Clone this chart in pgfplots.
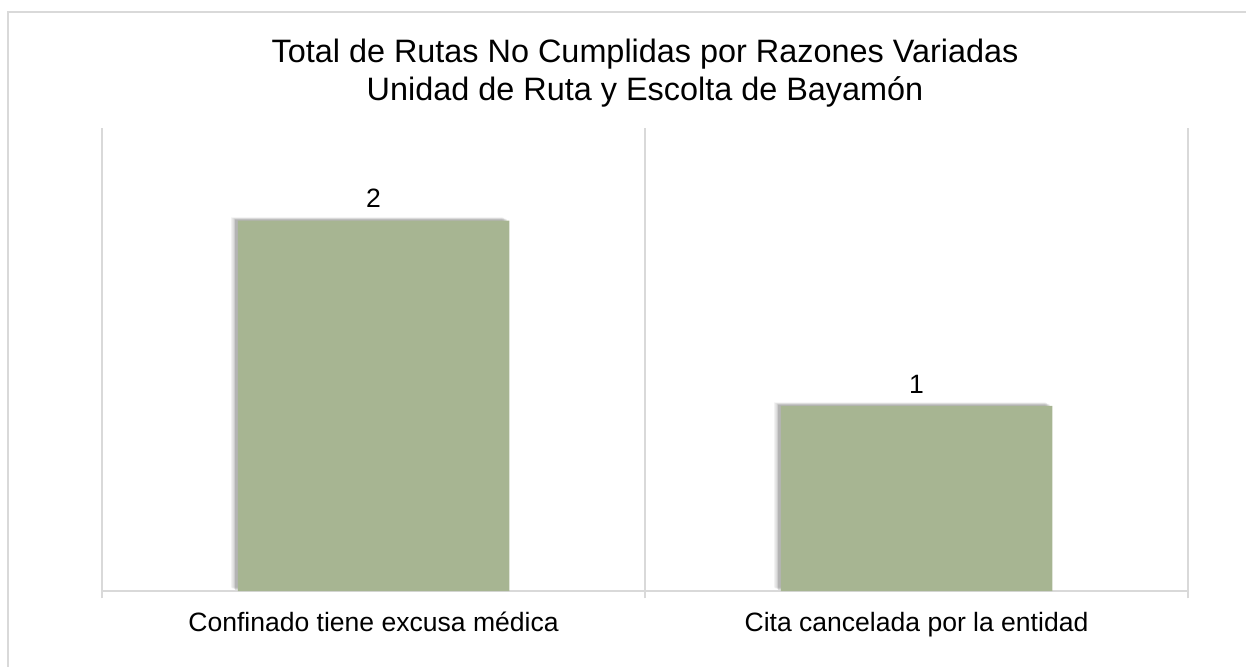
\documentclass[border=0pt]{standalone}
\usepackage{pgfplots}
\pgfplotsset{compat=1.18}
\usepackage{fontspec}
\setmainfont{Liberation Sans}
\definecolor{barcol}{RGB}{167,181,146}
\definecolor{gridcol}{RGB}{217,217,217}
\tikzset{
  softshadow/.style={
    preaction={fill=black,opacity=0.05,transform canvas={xshift=-5pt,yshift=2.5pt}},
    preaction={fill=black,opacity=0.07,transform canvas={xshift=-4pt,yshift=2pt}},
    preaction={fill=black,opacity=0.09,transform canvas={xshift=-3pt,yshift=1.4pt}},
    preaction={fill=black,opacity=0.12,transform canvas={xshift=-2pt,yshift=0.9pt}},
  }
}

\begin{document}
\begin{tikzpicture}
% 1 px of the reference = 0.75pt, y measured downward from the top
\path[use as bounding box] (0,0) rectangle ({1246*0.75pt},{-667*0.75pt});
\draw[gridcol,line width=1.5pt] ({8*0.75pt},{-667*0.75pt}) -- ({8*0.75pt},{-12.5*0.75pt}) -- ({1246*0.75pt},{-12.5*0.75pt});

\node[anchor=base,font=\fontsize{24.3}{28}\selectfont] at ({645*0.75pt},{-63*0.75pt}) {Total de Rutas No Cumplidas por Razones Variadas};
\node[anchor=base,font=\fontsize{24.3}{28}\selectfont] at ({645*0.75pt},{-100*0.75pt}) {Unidad de Ruta y Escolta de Bayamón};

\begin{axis}[
at={({102*0.75pt},{-591*0.75pt})},
anchor=south west,
width=814.5pt,
height=347.25pt,
scale only axis,
/pgf/number format/assume math mode=true,
xmin=-0.5, xmax=1.5,
ymin=0, ymax=2.5,
xtick={0,1},
xticklabels={Confinado tiene excusa médica,Cita cancelada por la entidad},
minor xtick={-0.5,0.5,1.5},
minor x grid style={gridcol,line width=1.1pt},
xminorgrids,
ytick=\empty,
axis x line=bottom,
axis y line=none,
x axis line style={gridcol,line width=1.1pt,-},
tick align=outside,
major tick length=0pt,
minor tick length=5.5pt,
minor tick style={gridcol,line width=1.1pt},
xticklabel style={font=\fontsize{19.9}{24}\selectfont,anchor=base,yshift=-30pt},
ybar,
bar width=0.5,
nodes near coords,
nodes near coords style={font=\fontsize{19.9}{24}\selectfont,yshift=6pt},
]
\addplot[fill=barcol,draw=none,softshadow] coordinates {(0,2) (1,1)};
\end{axis}
\end{tikzpicture}
\end{document}
